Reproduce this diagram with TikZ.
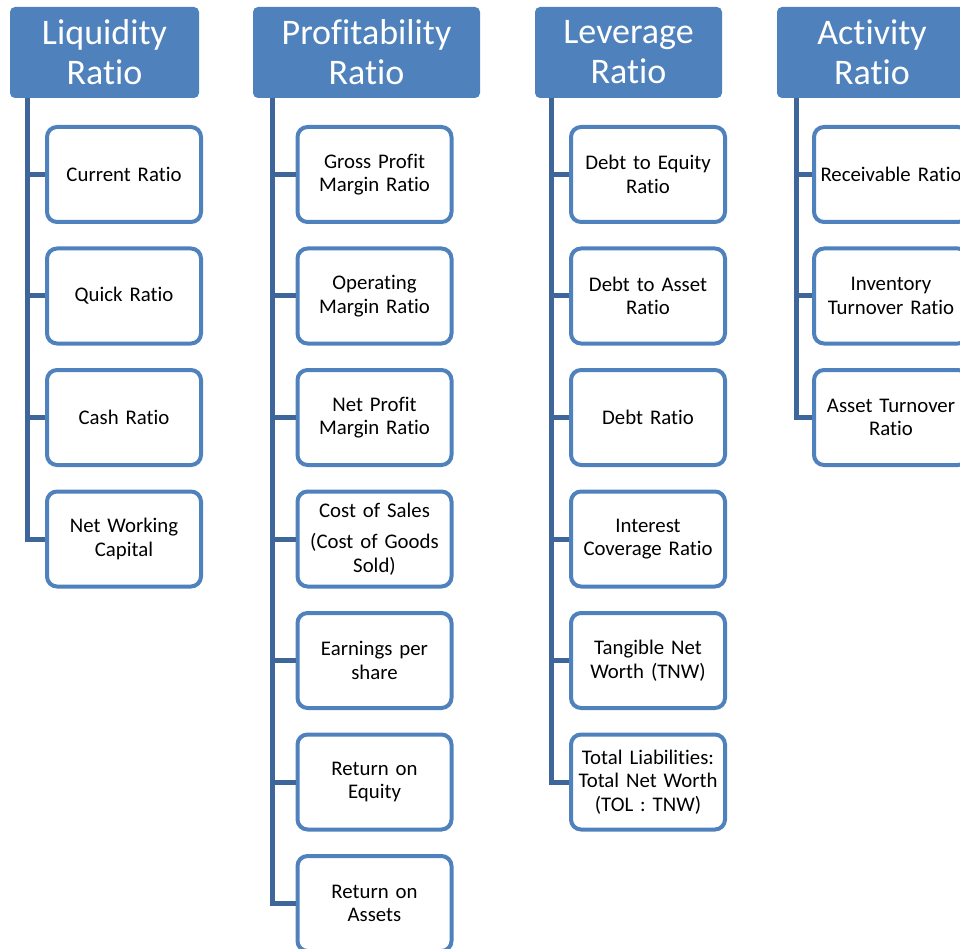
\documentclass[tikz,border=0pt]{standalone}
\usepackage{fontspec}
\setmainfont{Carlito}[RawFeature={-liga;-clig;-dlig;-calt}]
\definecolor{hdrblue}{RGB}{79,129,189}
\definecolor{boxblue}{RGB}{79,129,189}
\definecolor{lineblue}{RGB}{62,102,154}
\begin{document}
\begin{tikzpicture}[x=1pt,y=-1pt,
  header/.style={fill=hdrblue,draw=none,rounded corners=5pt,text=white,
    minimum height=91pt,align=center,inner sep=0pt,
    font=\fontsize{36}{40}\selectfont},
  item/.style={draw=boxblue,line width=4pt,fill=white,rounded corners=10pt,
    minimum width=154pt,minimum height=95pt,text width=154pt,align=center,
    inner sep=0pt,font=\fontsize{20.8}{23.5}\selectfont},
  conn/.style={draw=lineblue,line width=5pt}]
\useasboundingbox (0,0) rectangle (960,949);

% headers
\node[header,minimum width=189pt] (L) at (104.5,52.5) {Liquidity\\Ratio};
\node[header,minimum width=227pt] (P) at (366.5,52.5) {Profitability\\Ratio};
\node[header,minimum width=187pt] (V) at (628.5,52.5) {Leverage\\Ratio};
\node[header,minimum width=190pt] (A) at (872,52.5) {Activity\\Ratio};

\coordinate (Lt) at (27,98);
\coordinate (Pt) at (272,98);
\coordinate (Vt) at (551,98);
\coordinate (At) at (796,98);

% Liquidity
\node[item] (L1) at (124,174.5) {Current Ratio};
\node[item] (L2) at (124,296) {Quick Ratio};
\node[item] (L3) at (124,417.5) {Cash Ratio};
\node[item] (L4) at (124,539) {Net Working\\Capital};

% Profitability
\node[item] (P1) at (374.5,174.5) {Gross Profit\\Margin Ratio};
\node[item] (P2) at (374.5,296) {Operating\\Margin Ratio};
\node[item] (P3) at (374.5,417.5) {Net Profit\\Margin Ratio};
\node[item] (P4) at (374.5,539) {Cost of Sales\\[8pt](Cost of Goods\\Sold)};
\node[item] (P5) at (374.5,660.5) {Earnings per\\share};
\node[item] (P6) at (374.5,782) {Return on\\Equity};
\node[item] (P7) at (374.5,903.5) {Return on\\Assets};

% Leverage
\node[item] (V1) at (648,174.5) {Debt to Equity\\Ratio};
\node[item] (V2) at (648,296) {Debt to Asset\\Ratio};
\node[item] (V3) at (648,417.5) {Debt Ratio};
\node[item] (V4) at (648,539) {Interest\\Coverage Ratio};
\node[item] (V5) at (648,660.5) {Tangible Net\\Worth (TNW)};
\node[item] (V6) at (648,782) {Total Liabilities:\\Total Net Worth\\(TOL : TNW)};

% Activity
\node[item] (A1) at (891,174.5) {Receivable Ratio};
\node[item] (A2) at (891,296) {Inventory\\Turnover Ratio};
\node[item] (A3) at (891,417.5) {Asset Turnover\\Ratio};

% connectors
\foreach \c in {L1,L2,L3,L4} \draw[conn] (Lt) |- (\c.west);
\foreach \c in {P1,P2,P3,P4,P5,P6,P7} \draw[conn] (Pt) |- (\c.west);
\foreach \c in {V1,V2,V3,V4,V5,V6} \draw[conn] (Vt) |- (\c.west);
\foreach \c in {A1,A2,A3} \draw[conn] (At) |- (\c.west);
\end{tikzpicture}
\end{document}
